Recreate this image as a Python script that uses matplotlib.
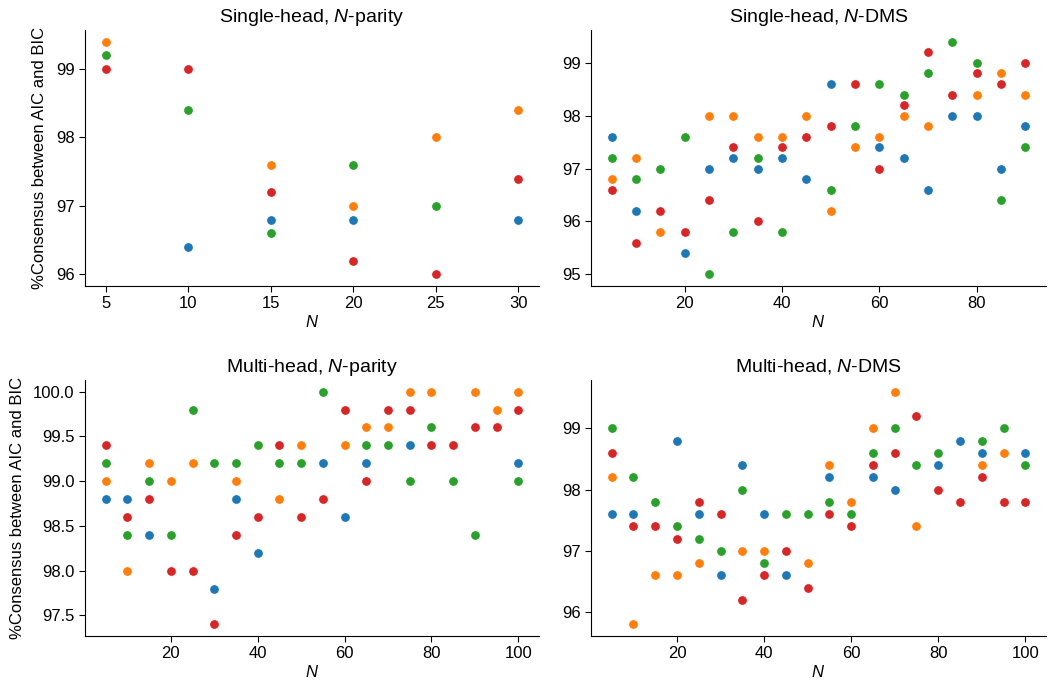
import matplotlib
matplotlib.use('Agg')

import numpy as np
import matplotlib.pyplot as plt
from matplotlib import rcParams

rcParams['font.family'] = ['Liberation Sans', 'DejaVu Sans']
rcParams['mathtext.fontset'] = 'custom'
rcParams['mathtext.rm'] = 'Liberation Sans'
rcParams['mathtext.it'] = 'Liberation Sans:italic'

COLORS = ['#1f77b4', '#ff7f0e', '#2ca02c', '#d62728']

# ===== Single-head, N-parity =====
sp_N = [5, 10, 15, 20, 25, 30]
sp_blue = [99.0, 96.4, 96.8, 96.8, 98.0, 96.8]
sp_orange = [99.4, 98.4, 97.6, 97.0, 98.0, 98.4]
sp_green = [99.2, 98.4, 96.6, 97.6, 97.0, 97.4]
sp_red = [99.0, 99.0, 97.2, 96.2, 96.0, 97.4]

# ===== Single-head, N-DMS =====
sd_N = list(range(5, 95, 5))
sd_blue = [97.6, 96.2, 95.8, 95.4, 97.0, 97.2, 97.0, 97.2, 96.8,
           98.6, 97.8, 97.4, 97.2, 96.6, 98.0, 98.0, 97.0, 97.8]
sd_orange = [96.8, 97.2, 95.8, 95.8, 98.0, 98.0, 97.6, 97.6, 98.0,
             96.2, 97.4, 97.6, 98.0, 97.8, 98.4, 98.4, 98.8, 98.4]
sd_green = [97.2, 96.8, 97.0, 97.6, 95.0, 95.8, 97.2, 95.8, 97.6,
            96.6, 97.8, 98.6, 98.4, 98.8, 99.4, 99.0, 96.4, 97.4]
sd_red = [96.6, 95.6, 96.2, 95.8, 96.4, 97.4, 96.0, 97.4, 97.6,
          97.8, 98.6, 97.0, 98.2, 99.2, 98.4, 98.8, 98.6, 99.0]

# ===== Multi-head, N-parity =====
mp_N = list(range(5, 105, 5))
mp_blue = [98.8, 98.8, 98.4, 99.0, 98.0, 97.8, 98.8, 98.2, 98.8, 99.4,
           99.2, 98.6, 99.2, 99.8, 99.4, 99.6, 99.4, 99.6, 99.8, 99.2]
mp_orange = [99.0, 98.0, 99.2, 99.0, 99.2, 99.2, 99.0, 99.4, 98.8, 99.4,
             98.8, 99.4, 99.6, 99.6, 100.0, 100.0, 99.4, 100.0, 99.8, 100.0]
mp_green = [99.2, 98.4, 99.0, 98.4, 99.8, 99.2, 99.2, 99.4, 99.2, 99.2,
            100.0, 99.8, 99.4, 99.4, 99.0, 99.6, 99.0, 98.4, 99.6, 99.0]
mp_red = [99.4, 98.6, 98.8, 98.0, 98.0, 97.4, 98.4, 98.6, 99.4, 98.6,
          98.8, 99.8, 99.0, 99.8, 99.8, 99.4, 99.4, 99.6, 99.6, 99.8]

# ===== Multi-head, N-DMS =====
md_N = list(range(5, 105, 5))
md_blue = [97.6, 97.6, 96.6, 98.8, 97.6, 96.6, 98.4, 97.6, 96.6, 96.4,
           98.2, 97.4, 98.2, 98.0, 98.4, 98.4, 98.8, 98.6, 98.6, 98.6]
md_orange = [98.2, 95.8, 96.6, 96.6, 96.8, 97.0, 97.0, 97.0, 97.6, 96.8,
             98.4, 97.8, 99.0, 99.6, 97.4, 98.0, 97.8, 98.4, 98.6, 98.4]
md_green = [99.0, 98.2, 97.8, 97.4, 97.2, 97.0, 98.0, 96.8, 97.6, 97.6,
            97.8, 97.6, 98.6, 99.0, 98.4, 98.6, 97.8, 98.8, 99.0, 98.4]
md_red = [98.6, 97.4, 97.4, 97.2, 97.8, 97.6, 96.2, 96.6, 97.0, 96.4,
          97.6, 97.4, 98.4, 98.6, 99.2, 98.0, 97.8, 98.2, 97.8, 97.8]

panels = [
    ('Single-head, $N$-parity', sp_N, [sp_blue, sp_orange, sp_green, sp_red],
     [5, 10, 15, 20, 25, 30], [96, 97, 98, 99], '{:.0f}'),
    ('Single-head, $N$-DMS', sd_N, [sd_blue, sd_orange, sd_green, sd_red],
     [20, 40, 60, 80], [95, 96, 97, 98, 99], '{:.0f}'),
    ('Multi-head, $N$-parity', mp_N, [mp_blue, mp_orange, mp_green, mp_red],
     [20, 40, 60, 80, 100], [97.5, 98.0, 98.5, 99.0, 99.5, 100.0], '{:.1f}'),
    ('Multi-head, $N$-DMS', md_N, [md_blue, md_orange, md_green, md_red],
     [20, 40, 60, 80, 100], [96, 97, 98, 99], '{:.0f}'),
]

W, H = 1048, 683
fig = plt.figure(figsize=(W / 100, H / 100), dpi=100)

boxes = [
    (85, 30, 539, 286),
    (591, 30, 1046, 286),
    (85, 380, 539, 636),
    (591, 380, 1046, 636),
]

for i, (title, xs, series, xt, yt, fmt) in enumerate(panels):
    l, t, r, b = boxes[i]
    ax = fig.add_axes([l / W, 1 - b / H, (r - l) / W, (b - t) / H])
    for ys, c in zip(series, COLORS):
        ax.scatter(xs, ys, s=50, color=c, edgecolor='white', linewidth=0.75, zorder=3)
    ax.set_title(title, fontsize=14, pad=6)
    ax.set_xticks(xt)
    ax.set_yticks(yt)
    ax.set_yticklabels([fmt.format(v) for v in yt])
    ax.tick_params(labelsize=12, length=4)
    ax.set_xlabel('$N$', fontsize=12, labelpad=2)
    ax.spines['top'].set_visible(False)
    ax.spines['right'].set_visible(False)
    if i % 2 == 0:
        ax.set_ylabel('%Consensus between AIC and BIC', fontsize=12, labelpad=6)

fig.savefig('out.png', dpi=100, facecolor='white')
